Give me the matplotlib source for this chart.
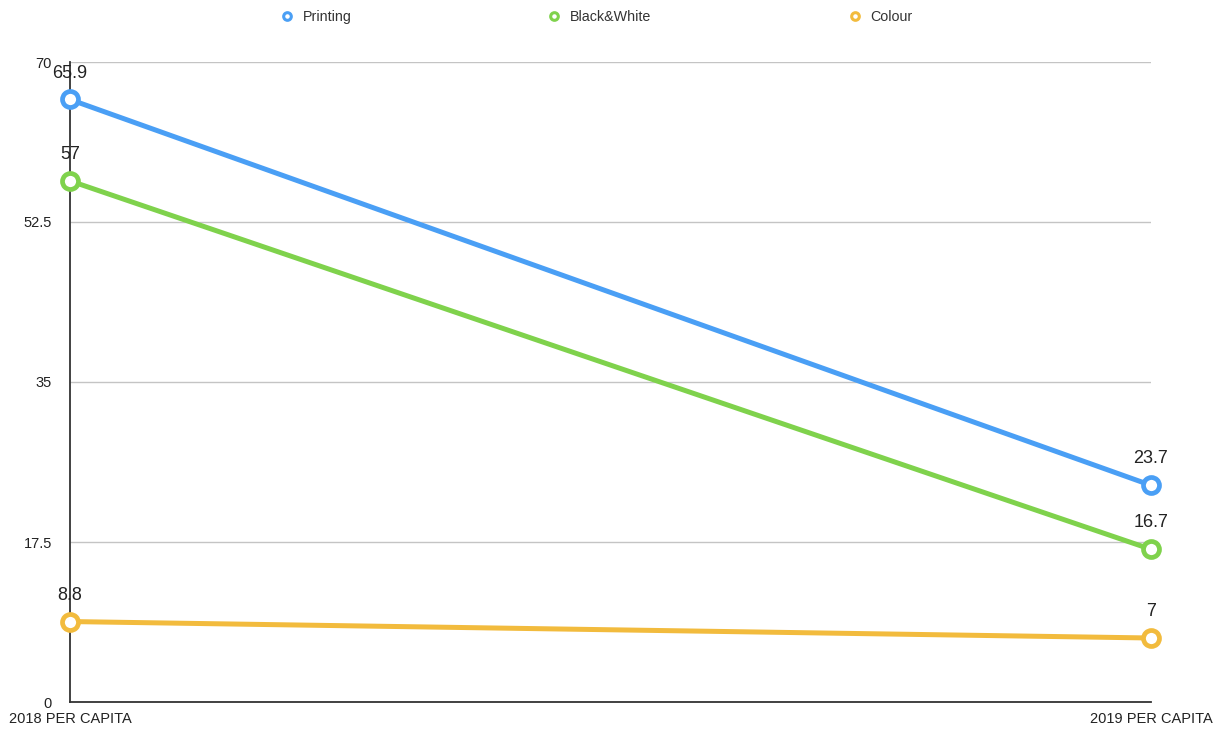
import numpy as np
from matplotlib import pyplot as plt
from matplotlib.lines import Line2D

# Chart data
#------------------------------------------------------------------------------
categories = ["2018 PER CAPITA", "2019 PER CAPITA"]
series_names = ["Printing", "Black&White", "Colour"]
printing = [65.9, 23.7]
black_white = [57, 16.7]
colour = [8.8, 7]
yticks = [0, 17.5, 35, 52.5, 70]
colours = ["#4a9ff5", "#7fd24c", "#f2bb3d"]
#------------------------------------------------------------------------------

plt.rcParams['font.family'] = ['Liberation Sans', 'DejaVu Sans']

fig = plt.figure(figsize=(12.29, 7.29), dpi=100)
ax = fig.add_axes([70 / 1229, 1 - 702 / 729, 1081 / 1229, 640 / 729])

x = np.arange(len(categories))
handles = []
for name, vals, col in zip(series_names, [printing, black_white, colour], colours):
    ax.plot(x, vals, color=col, lw=3.6, marker='o', ms=11.5, mfc='white',
            mec=col, mew=3.4, clip_on=False, zorder=5)
    for xi, v in zip(x, vals):
        ax.annotate('{:g}'.format(v), (xi, v), xytext=(0, 19),
                    textcoords='offset points', ha='center', va='center',
                    fontsize=13, color='#222222', zorder=6)
    handles.append(Line2D([], [], ls='none', marker='o', ms=5.5, mfc='white',
                          mec=col, mew=2.2, label=name))

ax.set_xlim(0, 1)
ax.set_ylim(0, 70)
ax.set_xticks(x)
ax.set_xticklabels(categories)
ax.set_yticks(yticks)
ax.set_yticklabels(['{:g}'.format(t) for t in yticks])
ax.tick_params(axis='both', length=0, labelsize=10.5, colors='#222222')
ax.tick_params(axis='y', pad=13)
ax.tick_params(axis='x', pad=7)
ax.grid(axis='y', color='#c4c4c4', lw=1)
ax.set_axisbelow(True)
for side in ['top', 'right']:
    ax.spines[side].set_visible(False)
for side in ['left', 'bottom']:
    ax.spines[side].set_color('#333333')
    ax.spines[side].set_linewidth(1.3)

leg = fig.legend(handles=handles, loc='center', bbox_to_anchor=(0.485, 0.977),
                 ncol=3, frameon=False, fontsize=10.3, columnspacing=13.7,
                 handletextpad=0.6, handlelength=1.0)
for t in leg.get_texts():
    t.set_color('#333333')

fig.savefig('out.png', dpi=100)
